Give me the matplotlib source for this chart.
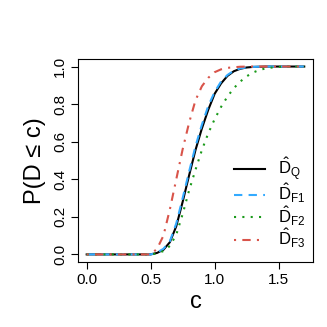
import numpy as np
import matplotlib
matplotlib.use("Agg")
import matplotlib.pyplot as plt

plt.rcParams['font.family'] = ['Liberation Sans', 'DejaVu Sans']
plt.rcParams['mathtext.fontset'] = 'custom'
plt.rcParams['mathtext.rm'] = 'Liberation Sans'
plt.rcParams['mathtext.it'] = 'Liberation Sans:italic'

# values
c_q = [0.0, 0.50, 0.55, 0.60, 0.65, 0.70, 0.75, 0.80, 0.85, 0.90, 0.95, 1.00, 1.05, 1.10, 1.15, 1.20, 1.25, 1.30, 1.40, 1.70]
p_q = [0.0, 0.0, 0.008, 0.025, 0.065, 0.15, 0.28, 0.42, 0.555, 0.67, 0.77, 0.855, 0.91, 0.95, 0.975, 0.988, 0.995, 0.998, 1.0, 1.0]

c_f1 = [0.0, 0.50, 0.55, 0.60, 0.65, 0.70, 0.75, 0.80, 0.85, 0.90, 0.95, 1.00, 1.05, 1.10, 1.15, 1.20, 1.25, 1.30, 1.40, 1.70]
p_f1 = [0.0, 0.0, 0.01, 0.03, 0.07, 0.165, 0.30, 0.44, 0.575, 0.69, 0.79, 0.865, 0.92, 0.955, 0.978, 0.99, 0.995, 0.998, 1.0, 1.0]

c_f2 = [0.0, 0.50, 0.55, 0.60, 0.65, 0.70, 0.75, 0.80, 0.85, 0.90, 0.95, 1.00, 1.05, 1.10, 1.15, 1.20, 1.25, 1.30, 1.35, 1.40, 1.45, 1.50, 1.55, 1.70]
p_f2 = [0.0, 0.0, 0.005, 0.018, 0.045, 0.105, 0.215, 0.34, 0.45, 0.555, 0.645, 0.72, 0.785, 0.84, 0.885, 0.92, 0.948, 0.968, 0.982, 0.99, 0.995, 0.998, 1.0, 1.0]

c_f3 = [0.0, 0.50, 0.55, 0.60, 0.65, 0.70, 0.75, 0.80, 0.85, 0.90, 0.95, 1.00, 1.05, 1.10, 1.15, 1.20, 1.30, 1.70]
p_f3 = [0.0, 0.0, 0.03, 0.10, 0.24, 0.40, 0.56, 0.70, 0.82, 0.895, 0.94, 0.97, 0.985, 0.993, 0.996, 0.999, 1.0, 1.0]

labels = [r'$\hat{\mathrm{D}}_{\mathrm{Q}}$', r'$\hat{\mathrm{D}}_{\mathrm{F1}}$',
          r'$\hat{\mathrm{D}}_{\mathrm{F2}}$', r'$\hat{\mathrm{D}}_{\mathrm{F3}}$']

fig = plt.figure(figsize=(3.27, 3.27), dpi=100)
ax = fig.add_axes([0.2385, 0.199, 0.7185, 0.6205])

ax.plot(c_q, p_q, color='black', lw=1.5, ls='-', label=labels[0])
ax.plot(c_f1, p_f1, color='#33AAFF', lw=1.5, ls=(0, (4, 3)), label=labels[1])
ax.plot(c_f2, p_f2, color='#1A9A1A', lw=1.5, ls=(0, (1, 3)), label=labels[2])
ax.plot(c_f3, p_f3, color='#D9544A', lw=1.5, ls=(0, (1, 3, 4, 3)), label=labels[3])

ax.set_xlim(-0.068, 1.768)
ax.set_ylim(-0.04, 1.04)
ax.set_xticks([0.0, 0.5, 1.0, 1.5])
ax.set_xticklabels(['0.0', '0.5', '1.0', '1.5'])
ax.set_yticks([0.0, 0.2, 0.4, 0.6, 0.8, 1.0])
ax.set_yticklabels(['0.0', '0.2', '0.4', '0.6', '0.8', '1.0'], rotation=90, va='center')
ax.tick_params(direction='out', length=5, width=0.8, labelsize=11, pad=3)

for s in ax.spines.values():
    s.set_linewidth(0.8)

ax.set_xlabel('c', fontsize=17, labelpad=3)
ax.set_ylabel('P(D \u2264 c)', fontsize=17, labelpad=5)

ax.legend(loc='lower right', bbox_to_anchor=(1.015, 0.0), frameon=False, fontsize=12,
          handlelength=1.85, labelspacing=-0.05, borderaxespad=0.3, handletextpad=0.75)

fig.savefig('out.png', dpi=100)
